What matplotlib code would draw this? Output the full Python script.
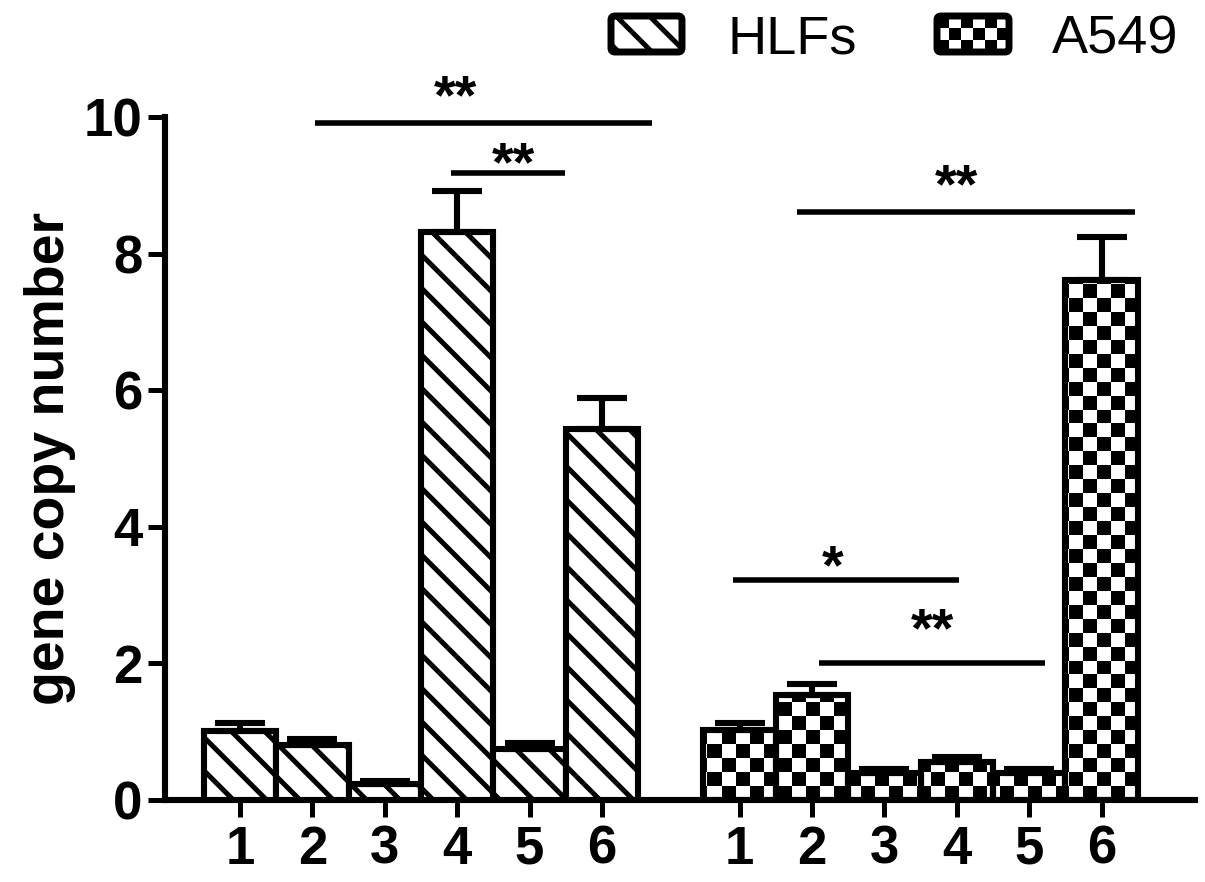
import numpy as np
import matplotlib
matplotlib.use("Agg")
import matplotlib.pyplot as plt
from matplotlib.patches import FancyBboxPatch

plt.rcParams['font.family'] = ['Liberation Sans', 'DejaVu Sans']
plt.rcParams['hatch.linewidth'] = 1.8

# data
labels = ['1', '2', '3', '4', '5', '6']
hlf_vals = [1.01, 0.80, 0.24, 8.32, 0.75, 5.43]
hlf_err = [0.11, 0.10, 0.04, 0.60, 0.09, 0.46]
a549_vals = [1.02, 1.54, 0.40, 0.56, 0.39, 7.61]
a549_err = [0.11, 0.16, 0.06, 0.07, 0.06, 0.63]

# significance brackets: x start, x end, y, star text, star x, star top y
sig_x0 = [1.04, 2.91, 7.69, 6.81, 8.00]
sig_x1 = [5.69, 4.49, 12.36, 9.93, 11.12]
sig_y = [9.91, 9.18, 8.61, 3.22, 2.01]
sig_txt = ['**', '**', '**', '*', '**']
sig_tx = [2.97, 3.78, 9.89, 8.19, 9.57]
sig_ty = [10.64, 9.66, 9.33, 3.76, 2.83]

x_hlf = np.arange(6)
x_a549 = np.arange(6) + 6.9
xlim = (-1.036, 13.19)
ylim = (0, 10)


def checker(nx, ny):
    ii, jj = np.meshgrid(np.arange(nx), np.arange(ny))
    return ((ii + jj) % 2).astype(float)


fig = plt.figure(figsize=(6.025, 4.41), dpi=200)
ax = fig.add_axes([0.1369, 0.0930, 0.8548, 0.7744])

b1 = ax.bar(x_hlf, hlf_vals, width=1.0, facecolor='white', edgecolor='black',
            linewidth=2.2, hatch='\\\\', zorder=3)
b2 = ax.bar(x_a549, a549_vals, width=1.0, facecolor='none', edgecolor='black',
            linewidth=2.2, zorder=3)

# checker fill of the A549 bars, about 14 px squares
chk = checker(74, 49)
for r in b2:
    im = ax.imshow(chk, extent=(xlim[0], xlim[1], ylim[0], ylim[1]), cmap='gray',
                   vmin=0, vmax=1, interpolation='nearest', aspect='auto', zorder=2)
    im.set_clip_path(r)

ax.errorbar(x_hlf, hlf_vals, yerr=[np.zeros(6), hlf_err], fmt='none', ecolor='black',
            elinewidth=2.2, capsize=9, capthick=2.2, zorder=4)
ax.errorbar(x_a549, a549_vals, yerr=[np.zeros(6), a549_err], fmt='none', ecolor='black',
            elinewidth=2.2, capsize=9, capthick=2.2, zorder=4)

for i in range(len(sig_y)):
    ax.plot([sig_x0[i], sig_x1[i]], [sig_y[i], sig_y[i]], color='black', lw=2.0,
            solid_capstyle='butt', clip_on=False, zorder=5)
    ax.text(sig_tx[i], sig_ty[i], sig_txt[i], ha='center', va='top', fontsize=20,
            fontweight='bold', clip_on=False)

ax.set_xlim(*xlim)
ax.set_ylim(*ylim)
ax.set_xticks(np.concatenate([x_hlf, x_a549]))
ax.set_xticklabels(labels + labels, fontweight='bold')
ax.set_yticks([0, 2, 4, 6, 8, 10])
ax.set_yticklabels(['0', '2', '4', '6', '8', '10'], fontweight='bold')
ax.tick_params(axis='both', direction='out', length=6, width=1.8, labelsize=19)
ax.tick_params(axis='x', pad=3)
ax.tick_params(axis='y', pad=2)
for s in ['top', 'right']:
    ax.spines[s].set_visible(False)
for s in ['left', 'bottom']:
    ax.spines[s].set_linewidth(2.2)

ax.set_ylabel('gene copy number', fontsize=20, fontweight='bold')
ax.yaxis.set_label_coords(-0.0864, 0.5)

# legend drawn in pixel coordinates on top
lax = fig.add_axes([0, 0, 1, 1])
lax.set_xlim(0, 1205)
lax.set_ylim(882, 0)
lax.axis('off')

sw1 = FancyBboxPatch((611, 16), 71, 36, boxstyle='round,pad=0,rounding_size=4',
                     facecolor='white', edgecolor='black', linewidth=2.5, hatch='\\\\')
lax.add_patch(sw1)
lax.text(728, 53, 'HLFs', fontsize=19.5, ha='left', va='baseline')

sw2 = FancyBboxPatch((937, 16), 72, 36, boxstyle='round,pad=0,rounding_size=4',
                     facecolor='none', edgecolor='black', linewidth=2.5, zorder=3)
lax.add_patch(sw2)
im = lax.imshow(checker(6, 3), extent=(937, 1009, 52, 16), cmap='gray', vmin=0, vmax=1,
                interpolation='nearest', aspect='auto', zorder=2)
im.set_clip_path(sw2)
lax.text(1052, 53, 'A549', fontsize=19.5, ha='left', va='baseline')
lax.set_xlim(0, 1205)
lax.set_ylim(882, 0)

fig.savefig('out.png', dpi=200)
